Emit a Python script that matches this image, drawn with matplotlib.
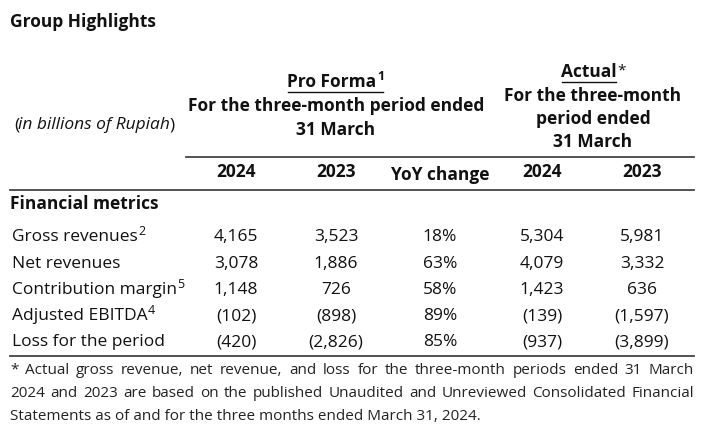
import matplotlib
matplotlib.use("Agg")
import matplotlib.pyplot as plt

plt.rcParams['font.family'] = ['Open Sans', 'DejaVu Sans']

title = "Group Highlights"
unit_label = "in billions of Rupiah"
section_label = "Financial metrics"
metrics = ["Gross revenues", "Net revenues", "Contribution margin", "Adjusted EBITDA", "Loss for the period"]
metric_notes = ["2", "", "5", "4", ""]
pf_2024 = [4165, 3078, 1148, -102, -420]
pf_2023 = [3523, 1886, 726, -898, -2826]
yoy_pct = [18, 63, 58, 89, 85]
act_2024 = [5304, 4079, 1423, -139, -937]
act_2023 = [5981, 3332, 636, -1597, -3899]
year_labels = ["2024", "2023", "YoY change", "2024", "2023"]
pf_header = ["Pro Forma", "For the three-month period ended", "31 March"]
act_header = ["Actual", "For the three-month", "period ended", "31 March"]
footnote_lines = [
    "* Actual gross revenue, net revenue, and loss for the three-month periods ended 31 March",
    "2024 and 2023 are based on the published Unaudited and Unreviewed Consolidated Financial",
    "Statements as of and for the three months ended March 31, 2024.",
]


def fmt(v):
    s = f"{abs(v):,}"
    return f"({s})" if v < 0 else s


W, H = 702, 436
fig = plt.figure(figsize=(W / 100, H / 100), dpi=100)
ax = fig.add_axes([0, 0, 1, 1])
ax.set_xlim(0, W)
ax.set_ylim(H, 0)
ax.axis('off')
fig.canvas.draw()
renderer = fig.canvas.get_renderer()

FS = 12.5
TXT = '#111111'


def width_px(t):
    return t.get_window_extent(renderer).width


def right_px(t):
    return t.get_window_extent(renderer).x1


def sup(t, s, y, fs=9, weight='normal'):
    x = right_px(t) + 0.5
    return ax.text(x, y - 6, s, fontsize=fs, weight=weight, ha='left', va='center', color=TXT)


ax.text(10, 22, title, fontsize=FS, weight='bold', ha='left', va='center', color=TXT)

t1 = ax.text(14, 125, "(", fontsize=FS, ha='left', va='center', color=TXT)
t2 = ax.text(right_px(t1) - 1, 125, unit_label, fontsize=FS, style='italic', ha='left', va='center', color=TXT)
ax.text(right_px(t2) - 0.5, 125, ")", fontsize=FS, ha='left', va='center', color=TXT)

pf_cx = 336
pf_y = [82, 106, 130]
for i, s in enumerate(pf_header):
    t = ax.text(pf_cx - (4 if i == 0 else 0), pf_y[i], s, fontsize=FS, weight='bold', ha='center', va='center', color=TXT)
    if i == 0:
        bb = t.get_window_extent(renderer)
        st = sup(t, "1", pf_y[i], fs=9, weight='bold')
        sx1 = right_px(st)
        ax.plot([bb.x0 + 1, sx1 - 1], [pf_y[i] + 10, pf_y[i] + 10], color=TXT, lw=1.0)

act_cx = 593
act_y = [72, 96, 119, 142]
for i, s in enumerate(act_header):
    t = ax.text(act_cx - (4 if i == 0 else 0), act_y[i], s, fontsize=FS, weight='bold', ha='center', va='center', color=TXT)
    if i == 0:
        bb = t.get_window_extent(renderer)
        ax.plot([bb.x0 + 1, bb.x1 - 1], [act_y[i] + 10, act_y[i] + 10], color=TXT, lw=1.0)
        ax.text(bb.x1 + 0.5, act_y[i] - 1, "*", fontsize=11, ha='left', va='center', color=TXT)

col_x = [236, 336, 440, 542, 642]
for cx, lab in zip(col_x, year_labels):
    yoy = lab == "YoY change"
    ax.text(cx, 175 if yoy else 172, lab, fontsize=FS, weight='bold', ha='center', va='center', color=TXT)

line_c = '#444444'
ax.plot([186, 694], [157, 157], color=line_c, lw=1.3)
ax.plot([10, 694], [190, 190], color=line_c, lw=1.3)
ax.plot([10, 694], [356, 356], color=line_c, lw=1.3)

ax.text(10, 204, section_label, fontsize=FS, weight='bold', ha='left', va='center', color=TXT)

row_y = [237, 264, 290, 316, 342]
for i, m in enumerate(metrics):
    y = row_y[i]
    t = ax.text(12, y, m, fontsize=FS, ha='left', va='center', color=TXT)
    if metric_notes[i]:
        sup(t, metric_notes[i], y)
    vals = [fmt(pf_2024[i]), fmt(pf_2023[i]), f"{yoy_pct[i]}%", fmt(act_2024[i]), fmt(act_2023[i])]
    for cx, v in zip(col_x, vals):
        ax.text(cx, y, v, fontsize=FS, ha='center', va='center', color=TXT)

FFS = 11
fy = [370, 393, 416]
x0, x1 = 10, 694
for li, line in enumerate(footnote_lines):
    y = fy[li]
    if li == len(footnote_lines) - 1:
        ax.text(x0, y, line, fontsize=FFS, ha='left', va='center', color='#222222')
        continue
    words = line.split(' ')
    ts = [ax.text(0, y, w, fontsize=FFS, ha='left', va='center', color='#222222') for w in words]
    widths = [width_px(t) for t in ts]
    gap = (x1 - x0 - sum(widths)) / (len(words) - 1)
    x = x0
    for t, w in zip(ts, widths):
        t.set_x(x)
        x += w + gap

fig.savefig("out.png", dpi=100, facecolor='white')
